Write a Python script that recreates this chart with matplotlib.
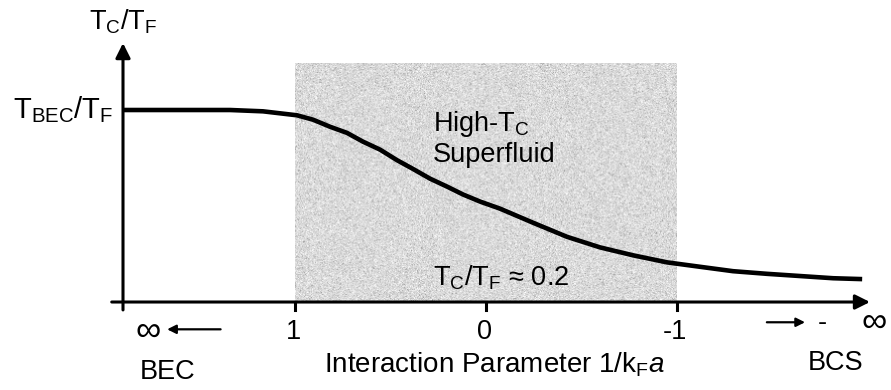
import numpy as np
import matplotlib
matplotlib.use("Agg")
import matplotlib.pyplot as plt

plt.rcParams["font.family"] = ["Liberation Sans", "DejaVu Sans"]
plt.rcParams["mathtext.fontset"] = "custom"
plt.rcParams["mathtext.rm"] = "Liberation Sans"
plt.rcParams["mathtext.it"] = "Liberation Sans:italic"
plt.rcParams["mathtext.bf"] = "Liberation Sans:bold"

# crossover curve T_c/T_F versus 1/(k_F a)
inv_kfa = [1.901, 1.602, 1.340, 1.168, 0.990, 0.906, 0.817, 0.728, 0.644, 0.555,
           0.466, 0.382, 0.293, 0.204, 0.120, 0.031, -0.073, -0.246, -0.424,
           -0.597, -0.770, -0.948, -1.120, -1.293, -1.471, -1.644, -1.817, -1.969]
tc_tf = [0.218, 0.218, 0.218, 0.2165, 0.212, 0.207, 0.199, 0.192, 0.182, 0.173,
         0.161, 0.151, 0.140, 0.131, 0.122, 0.114, 0.106, 0.090, 0.074,
         0.062, 0.053, 0.045, 0.040, 0.035, 0.032, 0.0295, 0.027, 0.026]
t_bec = 0.218
tick_vals = [1, 0, -1]
tick_labels = ["1", "0", "-1"]
region = (1.0, -1.0)     # strongly interacting window
region_top = 0.271

fig = plt.figure(figsize=(8.91, 3.9), dpi=100)
ax = fig.add_axes([0, 0, 1, 1])
ax.axis("off")

# grainy shading of the high-Tc window
rng = np.random.default_rng(7)
grain = 0.86 + 0.055 * rng.standard_normal((240, 385))
grain -= 0.12 * (rng.random((240, 385)) > 0.93)
ax.imshow(np.clip(grain, 0, 1), cmap="gray", vmin=0, vmax=1, aspect="auto",
          extent=(region[0], region[1], 0, region_top), interpolation="bilinear",
          zorder=0)

ax.plot(inv_kfa, tc_tf, color="black", lw=3.3, solid_capstyle="butt",
        solid_joinstyle="round", zorder=3)

x0 = inv_kfa[0]
arrow = dict(arrowstyle="-|>", lw=2.2, color="black", mutation_scale=22,
             shrinkA=0, shrinkB=0)
ax.annotate("", xy=(x0, 0.294), xytext=(x0, -0.009), arrowprops=arrow, zorder=4)
ax.annotate("", xy=(-2.01, 0), xytext=(1.96, 0), arrowprops=arrow, zorder=4)
for t in tick_vals:
    ax.plot([t, t], [0, -0.009], color="black", lw=2.2, zorder=4)

fs = 19.5
for t, lab in zip(tick_vals, tick_labels):
    ax.text(t + 0.01, -0.034, lab, fontsize=fs, ha="center", va="center")

ax.text(x0, 0.318, r"$\mathrm{T_C/T_F}$", fontsize=fs, ha="center", va="center")
ax.text(1.953, t_bec, r"$\mathrm{T_{BEC}/T_F}$", fontsize=21, ha="right",
        va="center")
ax.text(0.277, 0.194, r"High-T$_\mathrm{C}$", fontsize=fs, ha="left", va="baseline")
ax.text(0.277, 0.159, "Superfluid", fontsize=fs, ha="left", va="baseline")
ax.text(0.277, 0.0193, r"$\mathrm{T_C/T_F}$ ≈ 0.2", fontsize=fs, ha="left",
        va="baseline")

# limits of the coupling parameter
small = dict(arrowstyle="-|>", lw=1.6, color="black", mutation_scale=13,
             shrinkA=0, shrinkB=0)
ax.text(1.77, -0.033, "∞", fontsize=fs + 6, ha="center", va="center")
ax.annotate("", xy=(1.67, -0.031), xytext=(1.39, -0.031), arrowprops=small)
ax.annotate("", xy=(-1.67, -0.023), xytext=(-1.47, -0.023), arrowprops=small)
ax.text(-1.76, -0.024, "-", fontsize=fs, ha="center", va="center")
ax.text(-2.03, -0.023, "∞", fontsize=fs + 6, ha="center", va="center")

ax.text(1.67, -0.080, "BEC", fontsize=fs, ha="center", va="center")
ax.text(-0.042, -0.0715, r"Interaction Parameter 1/k$_\mathrm{F}$$a$", fontsize=20,
        ha="center", va="center")
ax.text(-1.83, -0.069, "BCS", fontsize=fs, ha="center", va="center")

ax.set_xlim(2.545, -2.12)
ax.set_ylim(-0.0999, 0.3429)

fig.savefig("out.png", dpi=100)
